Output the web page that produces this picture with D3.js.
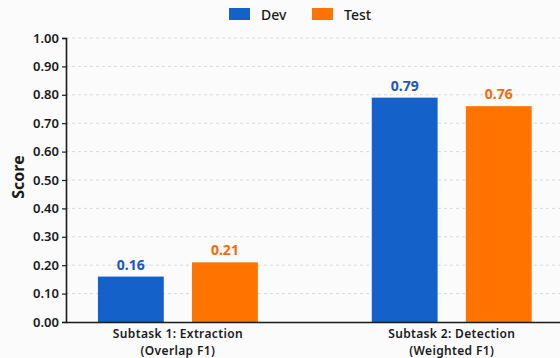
<!DOCTYPE html>
<html>
<head>
<meta charset="utf-8">
<script src="https://cdn.jsdelivr.net/npm/d3@7"></script>
<style>
  html, body { margin: 0; padding: 0; background: #fbfbfb; }
  svg { display: block; font-family: "Noto Sans", "Open Sans", sans-serif; }
</style>
</head>
<body>
<svg id="chart" width="560" height="358"></svg>
<script>
// Scores per subtask for the dev and test splits
const categoryTitles = ["Subtask 1: Extraction", "Subtask 2: Detection"];
const categoryMetrics = ["(Overlap F1)", "(Weighted F1)"];
const seriesNames = ["Dev", "Test"];
const devScores = [0.16, 0.79];
const testScores = [0.21, 0.76];
const yTicks = [0, 0.1, 0.2, 0.3, 0.4, 0.5, 0.6, 0.7, 0.8, 0.9, 1.0];

const barColors = { Dev: "#1461c9", Test: "#ff7300" };
const labelColors = { Dev: "#1a57c2", Test: "#f56a0c" };

const svg = d3.select("#chart");
const margin = { left: 66, right: 0, top: 38, bottom: 36 };
const W = 560, H = 358;

const rows = categoryTitles.map((c, i) => ({ key: i, title: c, metric: categoryMetrics[i], Dev: devScores[i], Test: testScores[i] }));

const x0 = d3.scaleBand()
  .domain(rows.map(d => d.key))
  .range([margin.left, W - margin.right])
  .paddingInner(0.416)
  .paddingOuter(0.11)
  .align(0.53);

const x1 = d3.scaleBand()
  .domain(seriesNames)
  .range([0, x0.bandwidth()])
  .paddingInner(0.3)
  .paddingOuter(0);

const y = d3.scaleLinear().domain([0, 1]).range([H - margin.bottom, margin.top]);

// dashed horizontal grid
svg.append("g")
  .selectAll("line")
  .data(yTicks.filter(t => t > 0))
  .join("line")
  .attr("x1", margin.left)
  .attr("x2", W)
  .attr("y1", d => y(d))
  .attr("y2", d => y(d))
  .attr("stroke", "#d9d9d9")
  .attr("stroke-width", 1)
  .attr("stroke-dasharray", "3,3");

// bars
const groups = svg.append("g")
  .selectAll("g")
  .data(rows)
  .join("g")
  .attr("transform", d => `translate(${x0(d.key)},0)`);

groups.selectAll("rect")
  .data(d => seriesNames.map(s => ({ s, v: d[s] })))
  .join("rect")
  .attr("x", d => x1(d.s))
  .attr("width", x1.bandwidth())
  .attr("y", d => y(d.v))
  .attr("height", d => y(0) - y(d.v))
  .attr("fill", d => barColors[d.s]);

groups.selectAll("text.val")
  .data(d => seriesNames.map(s => ({ s, v: d[s] })))
  .join("text")
  .attr("class", "val")
  .attr("x", d => x1(d.s) + x1.bandwidth() / 2)
  .attr("y", d => y(d.v) - 7)
  .attr("text-anchor", "middle")
  .attr("font-size", 14)
  .attr("font-weight", 700)
  .attr("fill", d => labelColors[d.s])
  .text(d => d.v.toFixed(2));

// y axis
const yAxis = svg.append("g")
  .attr("transform", `translate(${margin.left},0)`)
  .call(d3.axisLeft(y).tickValues(yTicks).tickFormat(d3.format(".2f")).tickSize(4).tickPadding(3));
yAxis.select(".domain").attr("stroke", "#1a1a1a").attr("stroke-width", 1.6);
yAxis.selectAll(".tick line").attr("stroke", "#1a1a1a").attr("stroke-width", 1.2);
yAxis.selectAll(".tick text")
  .attr("font-size", 13)
  .attr("font-weight", 600)
  .attr("fill", "#1a1a1a")
  .style("font-family", "'Noto Sans', sans-serif");

// x axis baseline
const xAxis = svg.append("g")
  .attr("transform", `translate(0,${y(0)})`)
  .call(d3.axisBottom(x0).tickSize(0).tickFormat(""));
xAxis.select(".domain").attr("stroke", "#1a1a1a").attr("stroke-width", 1.6);

// two-line category labels
const catLabels = svg.append("g")
  .selectAll("g")
  .data(rows)
  .join("g")
  .attr("transform", d => `translate(${x0(d.key) + x0.bandwidth() / 2},${y(0)})`)
  .attr("text-anchor", "middle")
  .attr("font-size", 12)
  .attr("font-weight", 600)
  .attr("letter-spacing", 0.35)
  .attr("fill", "#1a1a1a");
catLabels.append("text").attr("y", 16.3).text(d => d.title);
catLabels.append("text").attr("y", 32.5).text(d => d.metric);

// y axis title
svg.append("text")
  .attr("transform", `translate(24,${(y(0) + y(1)) / 2 - 3}) rotate(-90)`)
  .attr("text-anchor", "middle")
  .attr("font-size", 16)
  .attr("font-weight", 700)
  .attr("fill", "#1a1a1a")
  .text("Score");

// legend
const legendX = d3.scaleOrdinal().domain(seriesNames).range([229, 312]);
const legend = svg.append("g")
  .selectAll("g")
  .data(seriesNames)
  .join("g")
  .attr("transform", d => `translate(${legendX(d)},8)`);
legend.append("rect")
  .attr("width", 21)
  .attr("height", 12)
  .attr("fill", d => barColors[d]);
legend.append("text")
  .attr("x", 32)
  .attr("y", 11.5)
  .attr("font-size", 14)
  .attr("font-weight", 500)
  .attr("fill", "#1a1a1a")
  .text(d => d);
</script>
</body>
</html>
